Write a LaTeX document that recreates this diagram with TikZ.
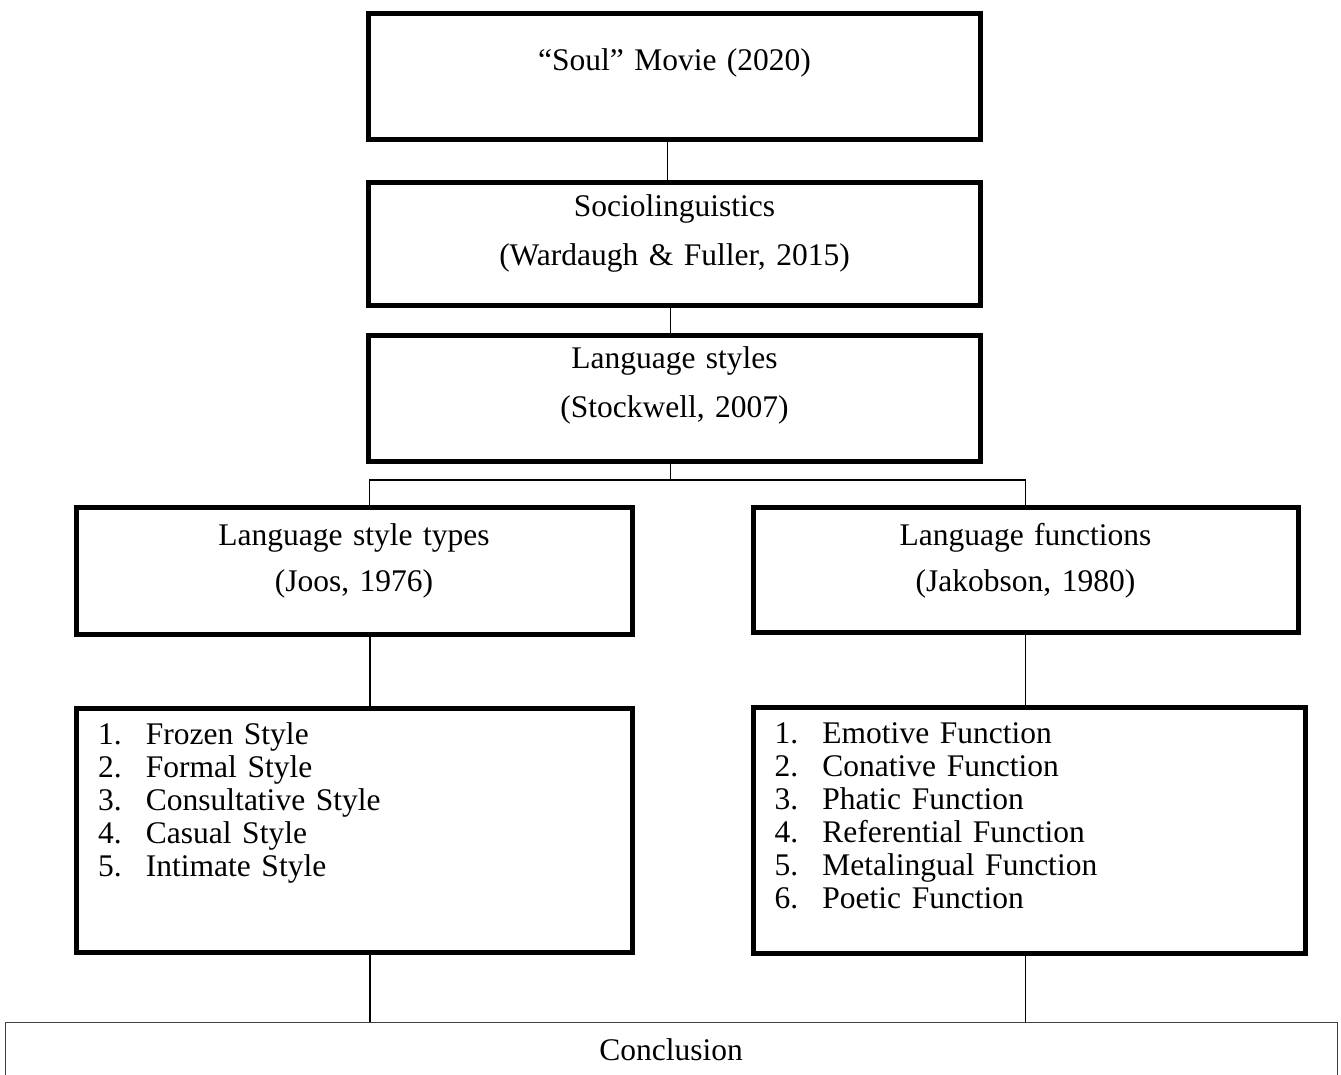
\documentclass[tikz,border=0pt]{standalone}
\usepackage{fontspec}
\setmainfont{Liberation Serif}

\newcommand{\listitem}[2]{\makebox[48pt][l]{#1.}#2}

\begin{document}
\begin{tikzpicture}
[
	x	= 1pt,	% one unit per pixel of the page
	y	= -1pt,	% rows are counted downwards
	%
	%
	% ----------- options for the boxes --------------
	every node/.style =
	{
		font		= \fontsize{31.5}{33}\selectfont,
		inner sep	= 0pt
	},
	%
	mainbox/.style =
	{
		draw,
		line width	= 5pt,
		anchor		= north west,
		align		= center
	},
	%
	listbox/.style =
	{
		draw,
		line width	= 5pt,
		anchor		= north west,
		align		= left
	},
	%
	endbox/.style =
	{
		draw		= black!75,
		line width	= 1.2pt,
		anchor		= north west,
		align		= center
	},
	%
	link/.style =
	{
		draw,
		line width	= 1.3pt
	}
]

\useasboundingbox (0, 0) rectangle (1341, 1075);
\clip (0, 0) rectangle (1341, 1075);



% main chain
\node [mainbox, text width = 612pt, text height = 57.5pt, text depth = 69pt] (soul) at (366, 11)
	{“Soul” Movie (2020)};
\node [mainbox, text width = 612pt, text height = 34pt, text depth = 89pt] (socio) at (366, 180.5)
	{Sociolinguistics\\[16pt](Wardaugh \& Fuller, 2015)};
\node [mainbox, text width = 612pt, text height = 33pt, text depth = 93pt] (styles) at (366, 332.5)
	{Language styles\\[16pt](Stockwell, 2007)};

% two branches
\node [mainbox, text width = 556pt, text height = 38pt, text depth = 89pt] (types) at (73.5, 505)
	{Language style types\\[13pt](Joos, 1976)};
\node [mainbox, text width = 545pt, text height = 38pt, text depth = 87pt] (funcs) at (750.5, 505)
	{Language functions\\[13pt](Jakobson, 1980)};

\node [listbox, text width = 512pt, inner xsep = 22pt, text height = 36pt, text depth = 208pt] (stylelist) at (73.5, 705.5)
{
	\listitem{1}{Frozen Style}\\
	\listitem{2}{Formal Style}\\
	\listitem{3}{Consultative Style}\\
	\listitem{4}{Casual Style}\\
	\listitem{5}{Intimate Style}
};
\node [listbox, text width = 509pt, inner xsep = 21.5pt, text height = 36pt, text depth = 210pt] (funclist) at (750.5, 704.5)
{
	\listitem{1}{Emotive Function}\\
	\listitem{2}{Conative Function}\\
	\listitem{3}{Phatic Function}\\
	\listitem{4}{Referential Function}\\
	\listitem{5}{Metalingual Function}\\
	\listitem{6}{Poetic Function}
};

% runs on below the page
\node [endbox, text width = 1332pt, text height = 38pt, text depth = 80pt] (concl) at (4.6, 1022)
	{Conclusion};



% connectors
\coordinate (fork) at ([xshift = -4pt, yshift = 25pt]types.north -| styles.south);

\draw [link] ([xshift = -7pt]soul.south) -- ([xshift = -7pt]socio.north);
\draw [link] ([xshift = -4pt]socio.south) -- ([xshift = -4pt]styles.north);
\draw [link] ([xshift = -4pt]styles.south) -- (fork);
\draw [link] ([xshift = 15.5pt]types.north) |- (fork) -| (funcs.north);

\draw [link] ([xshift = 16pt]types.south) -- ([xshift = 16pt]stylelist.north);
\draw [link] (funcs.south) -- (funcs.south |- funclist.north);

\draw [link] ([xshift = 16pt]stylelist.south) -- ([xshift = 16pt]stylelist.south |- concl.north);
\draw [link] (funcs.south |- funclist.south) -- (funcs.south |- concl.north);

\end{tikzpicture}
\end{document}
